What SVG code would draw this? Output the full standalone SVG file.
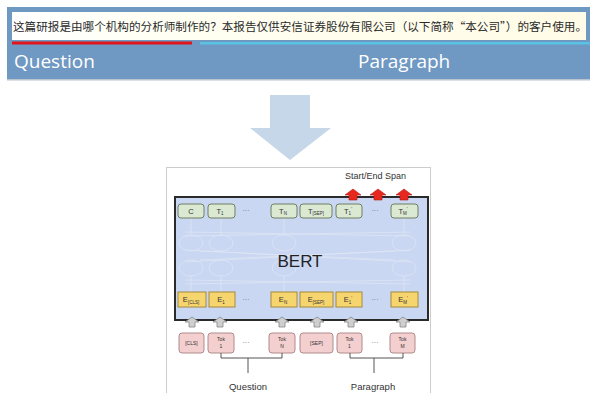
<svg xmlns="http://www.w3.org/2000/svg" width="590" height="393" viewBox="0 0 590 393">
  <style>
    .sans { font-family: "Liberation Sans", Arial, sans-serif; }
    .hdr { font-family: "Open Sans", "Noto Sans", sans-serif; fill: #ffffff; font-size: 19px; }
    .cjk { font-family: "Noto Sans CJK SC", "Noto Sans", sans-serif; font-size: 11.5px; fill: #2a2a2a; }
    .tbox { fill: #dbe9d3; stroke: #6e7f63; stroke-width: 1; }
    .ebox { fill: #f7d56e; stroke: #a48a3c; stroke-width: 1; }
    .kbox { fill: #f3cfcf; stroke: #b08a8a; stroke-width: 1; }
    .lbl { font-family: "Liberation Sans", Arial, sans-serif; font-size: 7.5px; fill: #333333; text-anchor: middle; }
    .tok { font-family: "Liberation Sans", Arial, sans-serif; font-size: 5px; fill: #333333; text-anchor: middle; }
    .sub { font-size: 4.5px; }
    .dots { font-family: "Liberation Sans", Arial, sans-serif; font-size: 7px; fill: #666666; text-anchor: middle; }
    .ghost { fill: none; stroke: #dde4f4; stroke-width: 0.8; }
    .uparrow { fill: #cfcfcf; stroke: #888888; stroke-width: 0.8; }
    .redarrow { fill: #e8281e; stroke: #b01a10; stroke-width: 0.6; }
    .bracket { fill: none; stroke: #555555; stroke-width: 1; }
  </style>

  <rect width="590" height="393" fill="#ffffff"/>

  <!-- banner: sentence strip with question / paragraph labels -->
  <g id="banner">
    <rect x="7" y="7" width="583" height="73" fill="#6f98c3"/>
    <rect x="7" y="79" width="583" height="1.5" fill="#b9c4cf"/>
    <defs>
      <linearGradient id="strip" x1="0" y1="0" x2="1" y2="0">
        <stop offset="0" stop-color="#ffffff"/>
        <stop offset="0.3" stop-color="#fffff2"/>
        <stop offset="1" stop-color="#fffbe6"/>
      </linearGradient>
    </defs>
    <rect x="12" y="12" width="574" height="28" fill="url(#strip)"/>
    <text class="cjk" x="13" y="31" textLength="574" lengthAdjust="spacingAndGlyphs">这篇研报是由哪个机构的分析师制作的？本报告仅供安信证券股份有限公司（以下简称“本公司”）的客户使用。</text>
    <rect x="12" y="41.5" width="180" height="3" fill="#e0161d"/>
    <rect x="200" y="42" width="390" height="2.5" fill="#5ac3e4"/>
    <text class="hdr" x="14" y="68">Question</text>
    <text class="hdr" x="358" y="68">Paragraph</text>
  </g>

  <!-- big downward arrow -->
  <g id="down-arrow">
    <polygon points="270,95 310,95 310,128 331,128 290,160 250,128 270,128" fill="#c6d7e9"/>
  </g>

  <!-- BERT figure -->
  <g id="bert-figure">
    <rect x="166.5" y="167.5" width="264" height="230" fill="#ffffff" stroke="#cccccc" stroke-width="1"/>
    <text class="sans" x="345" y="179" font-size="9" fill="#333333">Start/End Span</text>
  </g>

  <g id="bert">
    <rect x="175" y="197" width="253" height="123" fill="#cad7f2" stroke="#2a2a2a" stroke-width="2"/>
    <!-- faint hidden layers -->
    <g class="ghost">
      <ellipse cx="191" cy="243" rx="12" ry="8"/>
      <ellipse cx="221" cy="243" rx="12" ry="8"/>
      <ellipse cx="284" cy="243" rx="12" ry="8"/>
      <ellipse cx="404" cy="243" rx="12" ry="8"/>
      <ellipse cx="191" cy="268" rx="12" ry="8"/>
      <ellipse cx="221" cy="268" rx="12" ry="8"/>
      <ellipse cx="284" cy="268" rx="12" ry="8"/>
      <ellipse cx="404" cy="268" rx="12" ry="8"/>
      <path d="M191,218 V235 M221,218 V235 M284,218 V235 M404,218 V235"/>
      <path d="M191,276 V292 M221,276 V292 M284,276 V292 M404,276 V292"/>
      <path d="M185,250 L410,262 M185,262 L410,250 M200,251 L395,260 M200,260 L395,251"/>
      <path d="M185,280 L410,284 M185,284 L410,280 M185,232 L410,236 M185,236 L410,232"/>
    </g>
    <text class="sans" x="300" y="267" font-size="17" fill="#222222" text-anchor="middle">BERT</text>
  </g>

  <!-- output tokens -->
  <g id="outputs">
    <rect class="tbox" x="178" y="204" width="26" height="14" rx="3"/>
    <text class="lbl" x="191" y="213.5">C</text>
    <rect class="tbox" x="208" y="204" width="27" height="14" rx="3"/>
    <text class="lbl" x="220" y="213.5">T<tspan class="sub" dy="1.5">1</tspan></text>
    <text class="dots" x="246" y="213">···</text>
    <rect class="tbox" x="271" y="204" width="26" height="14" rx="3"/>
    <text class="lbl" x="283" y="213.5">T<tspan class="sub" dy="1.5">N</tspan></text>
    <rect class="tbox" x="300" y="204" width="32" height="14" rx="3"/>
    <text class="lbl" x="316" y="213.5">T<tspan class="sub" dy="1.5">[SEP]</tspan></text>
    <rect class="tbox" x="336" y="204" width="26" height="14" rx="3"/>
    <text class="lbl" x="348" y="213.5">T<tspan class="sub" dy="1.5">1</tspan><tspan class="sub" dy="-4">'</tspan></text>
    <text class="dots" x="375" y="213">···</text>
    <rect class="tbox" x="391" y="204" width="27" height="14" rx="3"/>
    <text class="lbl" x="403" y="213.5">T<tspan class="sub" dy="1.5">M</tspan><tspan class="sub" dy="-4">'</tspan></text>
  </g>

  <!-- embeddings -->
  <g id="embeddings">
    <rect class="ebox" x="178" y="292" width="28" height="15"/>
    <text class="lbl" x="191" y="302">E<tspan class="sub" dy="1.5">[CLS]</tspan></text>
    <rect class="ebox" x="209" y="292" width="26" height="15"/>
    <text class="lbl" x="221" y="302">E<tspan class="sub" dy="1.5">1</tspan></text>
    <text class="dots" x="246" y="302">···</text>
    <rect class="ebox" x="271" y="292" width="26" height="15"/>
    <text class="lbl" x="283" y="302">E<tspan class="sub" dy="1.5">N</tspan></text>
    <rect class="ebox" x="300" y="292" width="33" height="15"/>
    <text class="lbl" x="316" y="302">E<tspan class="sub" dy="1.5">[SEP]</tspan></text>
    <rect class="ebox" x="336" y="292" width="26" height="15"/>
    <text class="lbl" x="348" y="302">E<tspan class="sub" dy="1.5">1</tspan><tspan class="sub" dy="-4">'</tspan></text>
    <text class="dots" x="375" y="302">···</text>
    <rect class="ebox" x="391" y="292" width="27" height="15"/>
    <text class="lbl" x="403" y="302">E<tspan class="sub" dy="1.5">M</tspan><tspan class="sub" dy="-4">'</tspan></text>
  </g>

  <!-- input tokens -->
  <g id="tokens">
    <rect class="kbox" x="179" y="333" width="25" height="20" rx="3"/>
    <text class="tok" x="191.5" y="345">[CLS]</text>
    <rect class="kbox" x="208" y="333" width="26" height="20" rx="3"/>
    <text class="tok" x="221" y="341">Tok<tspan x="221" dy="6.5">1</tspan></text>
    <text class="dots" x="246" y="345">···</text>
    <rect class="kbox" x="269" y="333" width="26" height="20" rx="3"/>
    <text class="tok" x="282" y="341">Tok<tspan x="282" dy="6.5">N</tspan></text>
    <rect class="kbox" x="300" y="333" width="33" height="20" rx="3"/>
    <text class="tok" x="316.5" y="345">[SEP]</text>
    <rect class="kbox" x="337" y="333" width="25" height="20" rx="3"/>
    <text class="tok" x="349.5" y="341">Tok<tspan x="349.5" dy="6.5">1</tspan></text>
    <text class="dots" x="375" y="345">···</text>
    <rect class="kbox" x="390" y="333" width="25" height="20" rx="3"/>
    <text class="tok" x="402.5" y="341">Tok<tspan x="402.5" dy="6.5">M</tspan></text>
  </g>

  <!-- connectors: input arrows, span arrows and brackets -->
  <g id="connectors">
    <g class="uparrow">
      <path d="M192,317 L199,322 L195,322 L195,327 L189,327 L189,322 L185,322 Z"/>
      <path d="M220,317 L227,322 L223,322 L223,327 L217,327 L217,322 L213,322 Z"/>
      <path d="M282,317 L289,322 L285,322 L285,327 L279,327 L279,322 L275,322 Z"/>
      <path d="M317,317 L324,322 L320,322 L320,327 L314,327 L314,322 L310,322 Z"/>
      <path d="M351,317 L358,322 L354,322 L354,327 L348,327 L348,322 L344,322 Z"/>
      <path d="M403,317 L410,322 L406,322 L406,327 L400,327 L400,322 L396,322 Z"/>
    </g>
    <g class="redarrow">
      <path d="M353,189 L361,195 L357,195 L357,200 L349,200 L349,195 L345,195 Z"/>
      <path d="M378,189 L386,195 L382,195 L382,200 L374,200 L374,195 L370,195 Z"/>
      <path d="M404,189 L412,195 L408,195 L408,200 L400,200 L400,195 L396,195 Z"/>
    </g>
    <path class="bracket" d="M221,353 V358 H282 V353 M248,358 V373"/>
    <path class="bracket" d="M350,353 V358 H403 V353 M374,358 V373"/>
    <text class="sans" x="248" y="390" font-size="9.5" fill="#333333" text-anchor="middle">Question</text>
    <text class="sans" x="373" y="390" font-size="9.5" fill="#333333" text-anchor="middle">Paragraph</text>
  </g>
</svg>
